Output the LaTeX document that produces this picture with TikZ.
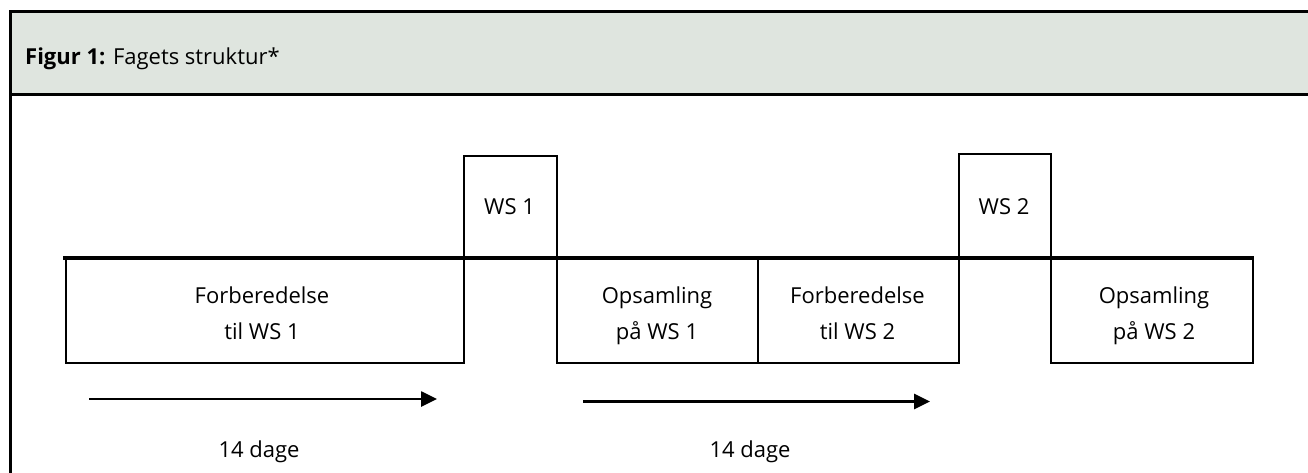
\documentclass[tikz,border=0pt]{standalone}
\usepackage{fontspec}
\setmainfont{Open Sans}
\usetikzlibrary{arrows.meta}
\definecolor{hdrfill}{RGB}{223,229,223}
\begin{document}
\begin{tikzpicture}[x=1pt,y=-1pt,
  every node/.style={font=\fontsize{22}{26}\selectfont, text=black, inner sep=0pt},
  box/.style={draw, line width=2.4pt, rectangle, anchor=north west, minimum height=104pt},
  topbox/.style={draw, line width=2.4pt, rectangle, anchor=south west},
  lbl/.style={anchor=base},
  span/.style={line width=2.6pt, -{Triangle[length=16pt,width=15pt]}}
]
\useasboundingbox (0,0) rectangle (1308,473);
% header band and frame
\fill[hdrfill] (10,12) rectangle (1310,95);
\draw[line width=3pt] (1312,12) -- (10,12) -- (10,476);
\draw[line width=3pt] (10,95) -- (1312,95);
\node[anchor=base west] (title) at (25,65) {\textbf{Figur 1:} Fagets struktur*};

% lower boxes
\node[box, minimum width=398pt] (f1) at (65,258) {};
\node[box, minimum width=201pt] (o1) at (556,258) {};
\node[box, minimum width=201pt] (f2) at (757,258) {};
\node[box, minimum width=202pt] (o2) at (1050,258) {};
% upper boxes
\node[topbox, minimum width=93pt, minimum height=101pt] (ws1) at (463,258) {};
\node[topbox, minimum width=92pt, minimum height=103pt] (ws2) at (958,258) {};
% thick base line
\draw[line width=3.4pt] ([xshift=-2pt]f1.north west) -- (o2.north east);

% texts
\node[lbl] (t1a) at (262,303) {Forberedelse};
\node[lbl] (t1b) at (262,339) {til WS 1};
\node[lbl] (tw1) at (509.5,214) {WS 1};
\node[lbl] (t2a) at (657,303) {Opsamling};
\node[lbl] (t2b) at (657,339) {på WS 1};
\node[lbl] (t3a) at (857.5,303) {Forberedelse};
\node[lbl] (t3b) at (857.5,339) {til WS 2};
\node[lbl] (tw2) at (1004,214) {WS 2};
\node[lbl] (t4a) at (1154,303) {Opsamling};
\node[lbl] (t4b) at (1154,339) {på WS 2};

% arrows
\coordinate (a1s) at (89,399);
\coordinate (a1e) at (437,399);
\coordinate (a2s) at (583,401.5);
\coordinate (a2e) at (930,401.5);
\draw[span] (a1s) -- (a1e);
\draw[span] (a2s) -- (a2e);
\node[lbl] (d1) at (259,457) {14 dage};
\node[lbl] (d2) at (750,457) {14 dage};
\end{tikzpicture}
\end{document}
